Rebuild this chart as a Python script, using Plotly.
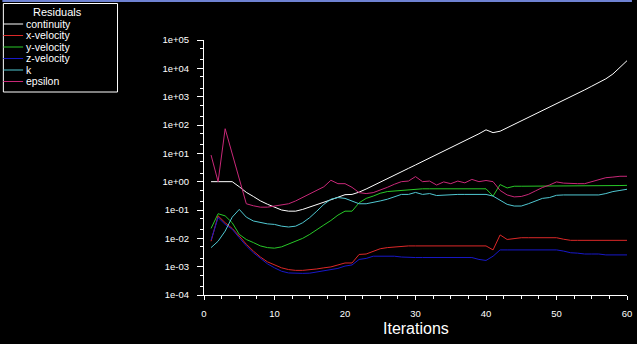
import plotly.graph_objects as go

# Solver residual history, iterations 1..60
iterations = list(range(1, 61))

continuity = [1.0, 1.0, 1.0, 1.0, 0.66, 0.42, 0.30, 0.21, 0.16, 0.123,
              0.10, 0.091, 0.091, 0.105, 0.126, 0.151, 0.186, 0.229, 0.282, 0.347,
              0.355, 0.427, 0.55, 0.72, 0.95, 1.29, 1.70, 2.24, 2.95, 3.89,
              5.13, 6.76, 8.91, 12.0, 15.8, 20.9, 27.5, 36.3, 49.0, 67.6,
              53.7, 60.3, 79.4, 105, 138, 182, 240, 316, 417, 575,
              759, 1000, 1318, 1738, 2344, 3162, 4266, 6310, 10700, 18600]

x_velocity = [0.0079, 0.062, 0.0355, 0.0224, 0.012, 0.0062, 0.00355, 0.00219, 0.00148, 0.00115,
              0.00091, 0.00079, 0.00074, 0.00074, 0.00076, 0.00083, 0.00091, 0.00098, 0.00115, 0.00135,
              0.00135, 0.0027, 0.0028, 0.00355, 0.0043, 0.0047, 0.0049, 0.0054, 0.0054, 0.0054,
              0.0054, 0.0054, 0.0054, 0.0054, 0.0054, 0.0054, 0.0054, 0.0054, 0.0054, 0.0054,
              0.0039, 0.0132, 0.0091, 0.010, 0.0105, 0.0105, 0.0105, 0.0105, 0.0105, 0.0105,
              0.0093, 0.0085, 0.0085, 0.0085, 0.0085, 0.0085, 0.0085, 0.0085, 0.0085, 0.0085]

y_velocity = [0.0224, 0.074, 0.062, 0.0355, 0.0138, 0.0091, 0.0071, 0.0054, 0.0047, 0.0045,
              0.0050, 0.0062, 0.0076, 0.010, 0.0138, 0.0209, 0.0295, 0.0427, 0.066, 0.091,
              0.091, 0.18, 0.257, 0.31, 0.39, 0.447, 0.47, 0.50, 0.52, 0.55,
              0.56, 0.56, 0.56, 0.56, 0.56, 0.56, 0.56, 0.56, 0.56, 0.56,
              0.31, 0.79, 0.60, 0.69, 0.69, 0.69, 0.69, 0.69, 0.69, 0.69,
              0.72, 0.72, 0.72, 0.72, 0.72, 0.72, 0.72, 0.72, 0.73, 0.74]

z_velocity = [0.0087, 0.054, 0.031, 0.0209, 0.0105, 0.0054, 0.0031, 0.00195, 0.00126, 0.00091,
              0.00069, 0.00060, 0.00058, 0.00058, 0.00059, 0.00065, 0.00074, 0.00079, 0.00087, 0.00105,
              0.00115, 0.0018, 0.00195, 0.00234, 0.00234, 0.00224, 0.00234, 0.00219, 0.0021, 0.0021,
              0.0021, 0.0021, 0.0021, 0.0021, 0.0021, 0.0021, 0.0021, 0.0021, 0.0018, 0.00166,
              0.00234, 0.0039, 0.0039, 0.0039, 0.0039, 0.0039, 0.0039, 0.0039, 0.0039, 0.0039,
              0.00355, 0.0031, 0.0030, 0.0028, 0.0028, 0.0028, 0.0026, 0.0026, 0.0026, 0.0026]

k = [0.0047, 0.0079, 0.018, 0.056, 0.105, 0.056, 0.041, 0.0355, 0.0324, 0.031,
     0.0269, 0.0251, 0.0269, 0.0355, 0.054, 0.091, 0.158, 0.24, 0.275, 0.257,
     0.209, 0.166, 0.166, 0.182, 0.209, 0.24, 0.295, 0.355, 0.355, 0.417,
     0.355, 0.38, 0.324, 0.34, 0.34, 0.355, 0.355, 0.355, 0.355, 0.355,
     0.31, 0.219, 0.158, 0.138, 0.138, 0.166, 0.209, 0.257, 0.275, 0.33,
     0.34, 0.34, 0.34, 0.34, 0.34, 0.34, 0.38, 0.447, 0.49, 0.54]

epsilon = [8.7, 1.0, 74, 10, 1.26, 0.166, 0.141, 0.126, 0.126, 0.138,
           0.145, 0.166, 0.209, 0.282, 0.372, 0.50, 0.66, 1.12, 0.85, 0.85,
           0.63, 0.41, 0.38, 0.41, 0.50, 0.63, 0.81, 1.0, 1.05, 1.51,
           1.0, 1.05, 0.76, 0.98, 0.85, 1.05, 0.91, 1.2, 1.0, 1.10,
           1.0, 0.49, 0.34, 0.29, 0.30, 0.355, 0.47, 0.62, 0.76, 0.98,
           0.89, 0.85, 0.85, 0.85, 1.0, 1.2, 1.38, 1.45, 1.55, 1.55]

series_names = ["continuity", "x-velocity", "y-velocity", "z-velocity", "k", "epsilon"]
series_values = [continuity, x_velocity, y_velocity, z_velocity, k, epsilon]
series_colors = ["#ffffff", "#dc2828", "#28c828", "#1818c8", "#50c8d2", "#c82878"]

x_ticks = [0, 10, 20, 30, 40, 50, 60]
y_tick_vals = [1e-4, 1e-3, 1e-2, 1e-1, 1e0, 1e1, 1e2, 1e3, 1e4, 1e5]
y_tick_text = ["1e-04", "1e-03", "1e-02", "1e-01", "1e+00",
               "1e+01", "1e+02", "1e+03", "1e+04", "1e+05"]

W, H = 637, 344
L, R, T, B = 204, 5, 40, 49
PW, PH = W - L - R, H - T - B


def px(x):
    return (x - L) / PW


def py(y):
    return (H - B - y) / PH


fig = go.Figure()
for name, vals, col in zip(series_names, series_values, series_colors):
    fig.add_trace(go.Scatter(x=iterations, y=vals, mode="lines", name=name,
                             line=dict(color=col, width=1), showlegend=False))

tick_font = dict(family="Liberation Sans, Arial, sans-serif", size=9.5, color="white")

fig.update_layout(
    width=W, height=H,
    margin=dict(l=L, r=R, t=T, b=B),
    paper_bgcolor="black", plot_bgcolor="black",
    xaxis=dict(range=[0, 60], tickvals=x_ticks, showgrid=False, zeroline=False,
               showline=True, linecolor="white", linewidth=1,
               ticks="outside", ticklen=4, tickcolor="white", tickwidth=1,
               minor=dict(dtick=2.5, ticks="outside", ticklen=3, tickcolor="white"),
               ticklabelstandoff=6, ticklabeloverflow="allow",
               tickfont=tick_font),
    yaxis=dict(type="log", range=[-4, 5], tickvals=y_tick_vals, ticktext=y_tick_text,
               showgrid=False, zeroline=False,
               showline=True, linecolor="white", linewidth=1,
               ticks="outside", ticklen=6, tickcolor="white", tickwidth=1,
               minor=dict(dtick="D2", ticks="outside", ticklen=3, tickcolor="white"),
               ticklabelstandoff=6, ticklabeloverflow="allow",
               tickfont=tick_font),
)

# Axis title
fig.add_annotation(text="Iterations", xref="paper", yref="paper",
                   x=px(418), y=py(328), xanchor="center", yanchor="middle",
                   showarrow=False,
                   font=dict(family="Liberation Sans Narrow, Liberation Sans, Arial", size=16,
                             color="white"))

# Top window stripe
fig.add_shape(type="rect", xref="paper", yref="paper",
              x0=px(0), x1=px(W), y0=py(2), y1=py(0),
              line=dict(width=0), fillcolor="#6e82d2", layer="above")

# Residuals legend box
fig.add_shape(type="rect", xref="paper", yref="paper",
              x0=px(1), x1=px(116.5), y0=py(92), y1=py(3.5),
              line=dict(color="white", width=1), fillcolor="black", layer="above")
fig.add_annotation(text="Residuals", xref="paper", yref="paper",
                   x=px(56), y=py(12.5), xanchor="center", yanchor="middle",
                   showarrow=False,
                   font=dict(family="Liberation Sans, Arial", size=11, color="white"))
entry_y = [24, 35.5, 47, 58.5, 70, 81.5]
for name, col, ey in zip(series_names, series_colors, entry_y):
    fig.add_shape(type="line", xref="paper", yref="paper",
                  x0=px(1), x1=px(21), y0=py(ey), y1=py(ey),
                  line=dict(color=col, width=1), layer="above")
    fig.add_annotation(text=name, xref="paper", yref="paper",
                       x=px(21.5), y=py(ey - 0.5), xanchor="left", yanchor="middle",
                       showarrow=False,
                       font=dict(family="Liberation Sans, Arial", size=10.5, color="white"))

fig.write_html("out.html")
